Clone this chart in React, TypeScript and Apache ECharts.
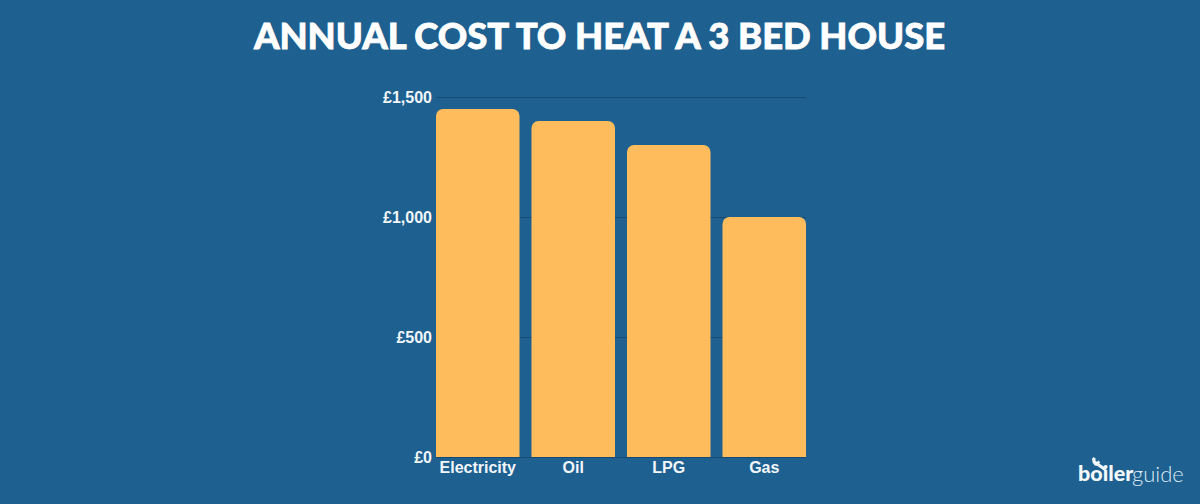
import React, { useEffect, useRef } from "react";
import * as echarts from "echarts";

const titleText = "ANNUAL COST TO HEAT A 3 BED HOUSE";
const categories = ["Electricity", "Oil", "LPG", "Gas"];
const costs = [1450, 1400, 1300, 1000];
const axisMax = 1500;
const axisStep = 500;

const BG = "#1e6090";
const BAR = "#ffbc5c";
const LABEL = "#f1f6fa";
const GRIDLINE = "#164a70";

const WRENCH =
  "M3 0 L7 3 L6 6 L9 8 L12 6 L15 9 L13 11 L27 19 L24 24 L10 15 L5 14 L1 9 L0 3 Z";
echarts.graphic.registerShape("wrench", echarts.graphic.extendPath(WRENCH, {}) as any);

export default function App() {
  const ref = useRef<HTMLDivElement>(null);
  useEffect(() => {
    const chart = echarts.init(ref.current!, undefined, { renderer: "svg" });
    chart.setOption({
      animation: false,
      backgroundColor: BG,
      title: {
        text: titleText,
        left: 594.5,
        top: 12,
        textAlign: "center",
        textStyle: {
          color: "#ffffff",
          fontFamily: "Lato",
          fontWeight: 900,
          fontSize: 36.4,
          textBorderColor: "#ffffff",
          textBorderWidth: 0.8,
        },
      },
      grid: [
        { left: 430, top: 97, width: 382, height: 360 },
        { left: 436, top: 97, width: 370, height: 360 },
      ],
      xAxis: [
        {
          type: "category",
          gridIndex: 0,
          data: categories,
          axisLine: { show: false },
          axisTick: { show: false },
          axisLabel: {
            color: LABEL,
            interval: 0,
            hideOverlap: false,
            fontFamily: "Liberation Sans",
            fontWeight: "bold",
            fontSize: 16,
            margin: 2,
          },
        },
        {
          type: "value",
          gridIndex: 1,
          min: 0,
          max: 1,
          show: false,
        },
      ],
      yAxis: [
        {
          type: "value",
          gridIndex: 0,
          min: 0,
          max: axisMax,
          interval: axisStep,
          show: false,
        },
        {
          type: "value",
          gridIndex: 1,
          min: 0,
          max: axisMax,
          interval: axisStep,
          axisLine: { show: false },
          axisTick: { show: false },
          splitLine: { show: true, lineStyle: { color: GRIDLINE, width: 1 } },
          axisLabel: {
            color: LABEL,
            fontFamily: "Liberation Sans",
            fontWeight: "bold",
            fontSize: 16,
            margin: 4,
            verticalAlign: "middle",
            formatter: (v: number) => "£" + v.toLocaleString("en-GB"),
          },
        },
      ],
      series: [
        {
          type: "bar",
          xAxisIndex: 0,
          yAxisIndex: 0,
          data: costs,
          barWidth: 83.5,
          itemStyle: { color: BAR, borderRadius: [7, 7, 0, 0] },
          z: 3,
        },
      ],
      graphic: [
        {
          type: "wrench",
          x: 1092,
          y: 457,
          scaleX: 0.55,
          scaleY: 0.6,
          style: { fill: "#f1f6fa" },
        },
        {
          type: "text",
          x: 1078,
          y: 462,
          style: {
            text: "boiler",
            fill: "#f4f8fb",
            fontFamily: "Lato",
            fontWeight: 900,
            fontSize: 21.5,
          },
        },
        {
          type: "text",
          x: 1132,
          y: 462,
          style: {
            text: "guide",
            fill: "#dbe9f2",
            fontFamily: "Lato",
            fontWeight: 300,
            fontSize: 22,
          },
        },
      ],
    });
    return () => chart.dispose();
  }, []);
  return <div ref={ref} style={{ position: "fixed", left: 0, top: 0, width: 1200, height: 504 }} />;
}
